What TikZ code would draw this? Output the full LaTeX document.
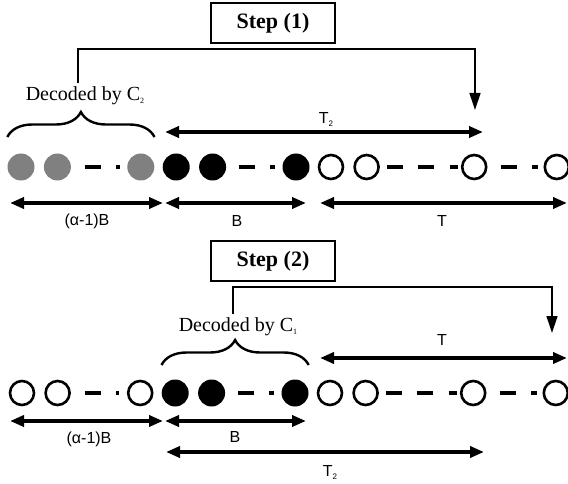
\documentclass[tikz,border=0pt]{standalone}
\usepackage{fontspec}
\setmainfont{Liberation Serif}
\setsansfont{Liberation Sans}
\usetikzlibrary{arrows.meta, positioning, decorations.pathreplacing}
\definecolor{dotgrey}{RGB}{128,128,128}
\tikzstyle{stepbox} = [rectangle, draw=black, line width=1.2pt, minimum width=124pt, minimum height=40pt, font=\fontsize{22}{24}\selectfont\bfseries]
\tikzstyle{greydot} = [circle, fill=dotgrey, minimum size=27pt, inner sep=0pt]
\tikzstyle{blackdot} = [circle, fill=black, minimum size=27pt, inner sep=0pt]
\tikzstyle{opendot} = [circle, draw=black, line width=2.6pt, minimum size=24pt, inner sep=0pt]
\tikzstyle{gap} = [line width=4pt, dash pattern=on 16pt off 15.5pt]
\tikzstyle{span} = [line width=3.5pt, {Triangle[length=14pt,width=11pt]}-{Triangle[length=14pt,width=11pt]}]
\tikzstyle{link} = [line width=1.3pt, -{Triangle[length=17pt,width=11pt]}]
\tikzstyle{curly} = [decorate, decoration={brace, amplitude=25pt}, line width=2.4pt]
\tikzstyle{decoded} = [font=\fontsize{20}{22}\selectfont]
\tikzstyle{dimlabel} = [font=\sffamily\fontsize{16}{18}\selectfont]
\newcommand{\tinysub}[1]{\raisebox{-3pt}{\fontsize{8}{8}\selectfont #1}}

\begin{document}
\begin{tikzpicture}[x=1pt, y=1pt, node distance=9pt]
\useasboundingbox (0,0) rectangle (568,483);

% step (1)
\node (step1) [stepbox] at (273,460) {Step (1)};
\node (g1) [greydot] at (21,316) {};
\node (g2) [greydot, right=of g1] {};
\node (g3) [greydot, right=56pt of g2] {};
\node (b1) [blackdot, right=8pt of g3] {};
\node (b2) [blackdot, right=of b1] {};
\node (b3) [blackdot, right=56pt of b2] {};
\node (w1) [opendot, right=8pt of b3] {};
\node (w2) [opendot, right=of w1] {};
\node (w3) [opendot, right=81pt of w2] {};
\node (w4) [opendot, right=56pt of w3] {};

\draw[gap, shorten <=13.5pt, shorten >=7.5pt] (g2.east) -- (g3.west);
\draw[gap, shorten <=12.5pt, shorten >=7.5pt] (b2.east) -- (b3.west);
\draw[gap, shorten <=7pt, shorten >=3pt] (w2.east) -- (w3.west);
\draw[gap, shorten <=13pt, shorten >=6pt] (w3.east) -- (w4.west);

\draw[curly] ([yshift=30pt]g1.west) -- ([yshift=30pt]g3.east);
\node (dec1) [decoded] at (85,387) {Decoded by C\tinysub{2}};
\coordinate (hit1) at (475,373);
\draw[link] ([xshift=-7pt]dec1.north) |- ([yshift=61pt]hit1) -- (hit1);

\coordinate (t2a) at (165,351);
\coordinate (t2b) at (483,351);
\draw[span] (t2a) -- (t2b);
\node (t2lab) [dimlabel] at (326,364) {T\tinysub{2}};

\coordinate (ab1a) at (10,280);
\coordinate (ab1b) at (163,280);
\coordinate (bb1a) at (165,280);
\coordinate (bb1b) at (306,280);
\coordinate (tt1a) at (320,280);
\coordinate (tt1b) at (567,280);
\draw[span] (ab1a) -- (ab1b);
\draw[span] (bb1a) -- (bb1b);
\draw[span] (tt1a) -- (tt1b);
\node (ab1lab) [dimlabel] at (87,262) {(α-1)B};
\node (bb1lab) [dimlabel] at (237,262) {B};
\node (tt1lab) [dimlabel] at (442,262) {T};

% step (2)
\node (step2) [stepbox] at (273,222) {Step (2)};
\node (o1) [opendot] at (22,90) {};
\node (o2) [opendot, right=of o1] {};
\node (o3) [opendot, right=56pt of o2] {};
\node (k1) [blackdot, right=8pt of o3] {};
\node (k2) [blackdot, right=of k1] {};
\node (k3) [blackdot, right=56pt of k2] {};
\node (u1) [opendot, right=8pt of k3] {};
\node (u2) [opendot, right=of u1] {};
\node (u3) [opendot, right=81pt of u2] {};
\node (u4) [opendot, right=56pt of u3] {};

\draw[gap, shorten <=14pt, shorten >=8pt] (o2.east) -- (o3.west);
\draw[gap, shorten <=12.5pt, shorten >=7.5pt] (k2.east) -- (k3.west);
\draw[gap, shorten <=7pt, shorten >=3pt] (u2.east) -- (u3.west);
\draw[gap, shorten <=13pt, shorten >=6pt] (u3.east) -- (u4.west);

\draw[curly] ([yshift=28pt]k1.west) -- ([yshift=28pt]k3.east);
\node (dec2) [decoded] at (238,156) {Decoded by C\tinysub{1}};
\coordinate (hit2) at (552,150);
\draw[link] ([xshift=-5pt]dec2.north) |- ([yshift=46pt]hit2) -- (hit2);

\coordinate (tt2a) at (320,125);
\coordinate (tt2b) at (567,125);
\draw[span] (tt2a) -- (tt2b);
\node (tt2lab) [dimlabel] at (442,143) {T};

\coordinate (ab2a) at (10,62);
\coordinate (ab2b) at (163,62);
\coordinate (bb2a) at (165,62);
\coordinate (bb2b) at (306,62);
\draw[span] (ab2a) -- (ab2b);
\draw[span] (bb2a) -- (bb2b);
\node (ab2lab) [dimlabel] at (89,44) {(α-1)B};
\node (bb2lab) [dimlabel] at (235,46) {B};

\coordinate (t22a) at (166,31);
\coordinate (t22b) at (484,31);
\draw[span] (t22a) -- (t22b);
\node (t22lab) [dimlabel] at (330,11) {T\tinysub{2}};
\end{tikzpicture}
\end{document}
